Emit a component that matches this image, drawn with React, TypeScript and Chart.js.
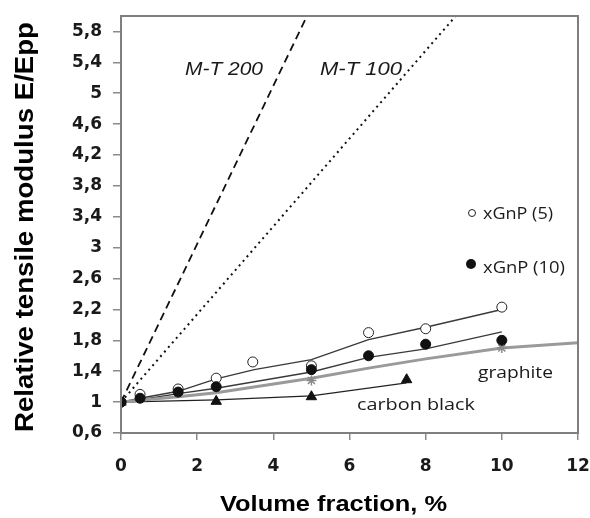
import React, { useEffect, useRef } from "react";
import { Chart, registerables } from "chart.js";

Chart.register(...registerables);

// ---- data ----
const xTickValues = [0, 2, 4, 6, 8, 10, 12];
const yTickValues = [0.6, 1.0, 1.4, 1.8, 2.2, 2.6, 3.0, 3.4, 3.8, 4.2, 4.6, 5.0, 5.4, 5.8];
const yTickLabels = ["0,6", "1", "1,4", "1,8", "2,2", "2,6", "3", "3,4", "3,8", "4,2", "4,6", "5", "5,4", "5,8"];

// Mori-Tanaka predictions
const mt200X = [0, 5];
const mt200Y = [1, 6.12];
const mt100X = [0, 9];
const mt100Y = [1, 6.12];

// xGnP (5) measured points and fitted line
const gnp5X = [0, 0.5, 1.5, 2.5, 3.46, 5, 6.5, 8, 10];
const gnp5Y = [1, 1.1, 1.17, 1.31, 1.52, 1.47, 1.9, 1.95, 2.23];
const gnp5FitX = [0, 0.5, 1.5, 2.5, 3.5, 5, 6.5, 8, 10];
const gnp5FitY = [1, 1.05, 1.14, 1.3, 1.42, 1.55, 1.81, 1.97, 2.2];

// xGnP (10) measured points and fitted line
const gnp10X = [0, 0.5, 1.5, 2.5, 5, 6.5, 8, 10];
const gnp10Y = [1, 1.05, 1.13, 1.2, 1.42, 1.6, 1.75, 1.8];
const gnp10FitX = [0, 0.5, 1.5, 2.5, 5, 6.5, 8, 10];
const gnp10FitY = [1, 1.03, 1.11, 1.18, 1.39, 1.58, 1.69, 1.91];

// graphite
const graphiteX = [5, 10];
const graphiteY = [1.28, 1.7];
const graphiteFitX = [0, 1.5, 2.5, 5, 6.5, 8, 10, 12];
const graphiteFitY = [1, 1.07, 1.12, 1.31, 1.44, 1.56, 1.7, 1.77];

// carbon black
const cbX = [0, 2.5, 5, 7.5];
const cbY = [1, 1.01, 1.07, 1.29];
const cbFitX = [0, 2.5, 5, 7.5];
const cbFitY = [1, 1.03, 1.08, 1.25];

const pts = (xs: number[], ys: number[]) => xs.map((x, i) => ({ x, y: ys[i] }));

function fitText(
  ctx: CanvasRenderingContext2D,
  text: string,
  x: number,
  y: number,
  font: string,
  width: number,
  rotate = false
) {
  ctx.save();
  ctx.font = font;
  ctx.textAlign = "left";
  ctx.textBaseline = "alphabetic";
  const w = ctx.measureText(text).width;
  ctx.translate(x, y);
  if (rotate) ctx.rotate(-Math.PI / 2);
  ctx.scale(width / w, 1);
  ctx.fillText(text, 0, 0);
  ctx.restore();
}

const annotations = {
  id: "annotations",
  afterDraw(chart: any) {
    const ctx = chart.ctx as CanvasRenderingContext2D;
    const a = chart.chartArea;
    ctx.save();
    // frame
    ctx.strokeStyle = "#7f7f7f";
    ctx.lineWidth = 2;
    ctx.strokeRect(a.left, a.top, a.right - a.left, a.bottom - a.top);

    ctx.fillStyle = "#1a1a1a";
    fitText(ctx, "M-T 200", 185, 75, "italic 18px 'Liberation Sans'", 78);
    fitText(ctx, "M-T 100", 320, 75, "italic 18px 'Liberation Sans'", 82);
    fitText(ctx, "xGnP (5)", 483, 219, "16px 'Open Sans'", 70);
    fitText(ctx, "xGnP (10)", 483, 273, "16px 'Open Sans'", 82);
    fitText(ctx, "graphite", 478, 378, "17px 'Open Sans'", 75);
    fitText(ctx, "carbon black", 357, 410, "17px 'Open Sans'", 118);

    ctx.fillStyle = "#000";
    fitText(ctx, "Volume fraction, %", 220, 511, "bold 22px 'Liberation Sans'", 227);
    fitText(ctx, "Relative tensile modulus E/Epp", 33, 432, "bold 25px 'Liberation Sans'", 410, true);

    // legend markers
    ctx.beginPath();
    ctx.arc(472, 213, 3.5, 0, Math.PI * 2);
    ctx.fillStyle = "#fff";
    ctx.fill();
    ctx.strokeStyle = "#222";
    ctx.lineWidth = 1;
    ctx.stroke();
    ctx.beginPath();
    ctx.arc(471, 264, 5, 0, Math.PI * 2);
    ctx.fillStyle = "#111";
    ctx.fill();
    ctx.restore();
  },
};

export default function App() {
  const ref = useRef<HTMLCanvasElement | null>(null);

  useEffect(() => {
    if (!ref.current) return;
    const line = (data: any, color: string, width: number, dash: number[] = []) => ({
      type: "scatter" as const,
      data,
      showLine: true,
      borderColor: color,
      borderWidth: width,
      borderDash: dash,
      pointRadius: 0,
      fill: false,
      order: 2,
    });
    const chart = new Chart(ref.current, {
      type: "scatter",
      data: {
        datasets: [
          line(pts(mt200X, mt200Y), "#111", 1.8, [8, 5]),
          line(pts(mt100X, mt100Y), "#111", 2, [2, 4]),
          line(pts(graphiteFitX, graphiteFitY), "#9a9a9a", 3),
          line(pts(cbFitX, cbFitY), "#222", 1.3),
          line(pts(gnp10FitX, gnp10FitY), "#3a3a3a", 1.4),
          line(pts(gnp5FitX, gnp5FitY), "#3a3a3a", 1.4),
          {
            data: pts(graphiteX, graphiteY),
            pointStyle: "star",
            pointRadius: 5,
            borderColor: "#8a8a8a",
            backgroundColor: "#8a8a8a",
            pointBorderWidth: 1.5,
            order: 1,
          },
          {
            data: pts(cbX, cbY),
            pointStyle: "triangle",
            pointRadius: 6,
            backgroundColor: "#111",
            borderColor: "#111",
            pointBorderWidth: 1,
            order: 1,
          },
          {
            data: pts(gnp10X, gnp10Y),
            pointStyle: "circle",
            pointRadius: 5,
            backgroundColor: "#111",
            borderColor: "#111",
            pointBorderWidth: 1,
            order: 0,
          },
          {
            data: pts(gnp5X, gnp5Y),
            pointStyle: "circle",
            pointRadius: 5,
            backgroundColor: "#fff",
            borderColor: "#222",
            pointBorderWidth: 1,
            order: 0,
          },
        ],
      },
      options: {
        responsive: false,
        animation: false,
        events: [],
        layout: { padding: { top: 16, right: 12, left: 0, bottom: 0 } },
        plugins: { legend: { display: false }, tooltip: { enabled: false } },
        scales: {
          x: {
            type: "linear",
            min: 0,
            max: 12,
            afterBuildTicks: (s: any) => {
              s.ticks = xTickValues.map((v) => ({ value: v }));
            },
            afterFit: (s: any) => {
              s.height = 85;
              s.paddingLeft = 0;
              s.paddingRight = 0;
              s.paddingTop = 0;
              s.paddingBottom = 0;
            },
            grid: { drawOnChartArea: false, drawTicks: true, tickLength: 7, color: "#8a8a8a", lineWidth: 1.5 },
            border: { display: true, color: "#7f7f7f", width: 2 },
            ticks: {
              padding: 16,
              color: "#1a1a1a",
              font: { family: "'DejaVu Sans'", weight: "bold", size: 17 },
              maxRotation: 0,
              callback: (v: any) => String(v),
            },
            title: { display: false },
          },
          y: {
            type: "linear",
            min: 0.6,
            max: 6.0,
            afterBuildTicks: (s: any) => {
              s.ticks = yTickValues.map((v) => ({ value: v }));
            },
            afterFit: (s: any) => {
              s.width = 121;
              s.paddingLeft = 0;
              s.paddingRight = 0;
              s.paddingTop = 0;
              s.paddingBottom = 0;
            },
            grid: { drawOnChartArea: false, drawTicks: true, tickLength: 8, color: "#8a8a8a", lineWidth: 1.5 },
            border: { display: true, color: "#7f7f7f", width: 2 },
            ticks: {
              padding: 11,
              color: "#1a1a1a",
              font: { family: "'DejaVu Sans'", weight: "bold", size: 17 },
              callback: (_v: any, i: number) => yTickLabels[i],
            },
            title: { display: false },
          },
        },
      },
      plugins: [annotations],
    });
    return () => chart.destroy();
  }, []);

  return (
    <div style={{ position: "absolute", left: 0, top: 0, width: 590, height: 518, background: "#fff" }}>
      <canvas ref={ref} width={590} height={518} style={{ width: 590, height: 518, display: "block" }} />
    </div>
  );
}
